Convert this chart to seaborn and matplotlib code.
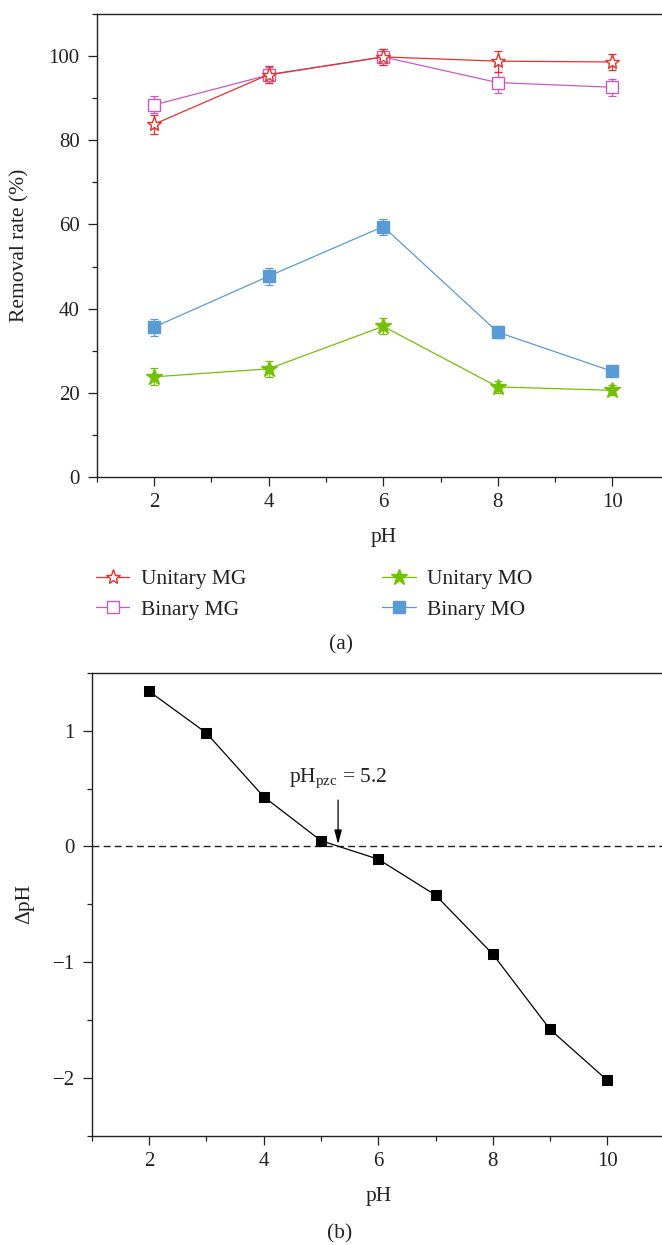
import numpy as np
import pandas as pd
import matplotlib
matplotlib.use("Agg")
import matplotlib.pyplot as plt
from matplotlib.ticker import MultipleLocator
import seaborn as sns

# ---- data: removal rate vs pH (panel a) ----
ph_a = [2, 4, 6, 8, 10]
unitary_mg = [83.8, 95.6, 99.8, 98.8, 98.6]
unitary_mg_err = [2.2, 2.0, 2.0, 2.5, 2.0]
binary_mg = [88.4, 95.5, 99.8, 93.7, 92.6]
binary_mg_err = [2.0, 2.0, 2.0, 2.5, 2.0]
unitary_mo = [23.8, 25.7, 35.8, 21.4, 20.6]
unitary_mo_err = [2.0, 1.9, 1.9, 1.5, 1.2]
binary_mo = [35.6, 47.7, 59.5, 34.4, 25.1]
binary_mo_err = [2.0, 2.0, 1.9, 1.4, 1.0]

# ---- data: point of zero charge (panel b) ----
ph_b = [2, 3, 4, 5, 6, 7, 8, 9, 10]
delta_ph = [1.34, 0.98, 0.43, 0.05, -0.11, -0.42, -0.93, -1.58, -2.02]
ph_pzc_label = r"pH$_{\mathrm{pzc}}$ = 5.2"
ph_pzc_x = 5.3

sns.set_theme(style="ticks")
plt.rcParams["font.family"] = ["Liberation Serif", "DejaVu Serif"]
plt.rcParams["mathtext.fontset"] = "custom"
plt.rcParams["mathtext.rm"] = "Liberation Serif"
plt.rcParams["mathtext.it"] = "Liberation Serif:italic"

W, H = 662, 1245
fig = plt.figure(figsize=(W / 100, H / 100), dpi=100)

def px_axes(left, top, right, bottom):
    return fig.add_axes([left / W, 1 - bottom / H, (right - left) / W, (bottom - top) / H])

ax1 = px_axes(96.7, 14, 669.7, 477)
ax2 = px_axes(91.7, 672.7, 664.7, 1136)

series = [
    ("Unitary MG", unitary_mg, unitary_mg_err, "#e8302a", "*", 11, "white"),
    ("Binary MG", binary_mg, binary_mg_err, "#cf58bf", "s", 8, "white"),
    ("Unitary MO", unitary_mo, unitary_mo_err, "#72c102", "*", 12, None),
    ("Binary MO", binary_mo, binary_mo_err, "#5b9bd5", "s", 8, None),
]
draw_order = [2, 3, 1, 0]
for i in draw_order:
    name, vals, err, col, mk, ms, face = series[i]
    ax1.errorbar(ph_a, vals, yerr=err, fmt="none", ecolor=col,
                 elinewidth=0.9, capsize=3.2, capthick=0.9, zorder=2)
    sns.lineplot(x=ph_a, y=vals, ax=ax1, color=col, marker=mk, markersize=ms,
                 markerfacecolor=face if face else col, markeredgecolor=col,
                 markeredgewidth=1.0, linewidth=0.9, label=name, zorder=3)

if ax1.get_legend() is not None:
    ax1.get_legend().remove()
handles, labels = ax1.get_legend_handles_labels()
order = [labels.index(s[0]) for s in series]
handles = [handles[k] for k in order]
labels = [labels[k] for k in order]

# ---- panel b ----
sns.lineplot(x=ph_b, y=delta_ph, ax=ax2, color="black", marker="s", markersize=6.5,
             markerfacecolor="black", markeredgecolor="black", linewidth=0.9, zorder=3)
ax2.axhline(0, color="#222222", linestyle=(0, (5, 3)), linewidth=1.0, zorder=1)
ax2.annotate("", xy=(ph_pzc_x, 0.02), xytext=(ph_pzc_x, 0.40),
             arrowprops=dict(arrowstyle="-|>,head_length=0.6,head_width=0.16",
                             mutation_scale=14, color="black", lw=0.9,
                             shrinkA=0, shrinkB=0))
ax2.text(ph_pzc_x, 0.59, ph_pzc_label, ha="center", va="center", fontsize=15.5,
         color="#222222")

# ---- axes styling ----
for ax in (ax1, ax2):
    ax.set_xlim(1, 11)
    ax.xaxis.set_major_locator(MultipleLocator(2))
    ax.xaxis.set_minor_locator(MultipleLocator(1))
    ax.tick_params(which="major", direction="out", length=6.7, width=0.9,
                   labelsize=15, pad=5.0, colors="#222222")
    ax.tick_params(which="minor", direction="out", length=3.4, width=0.9,
                   colors="#222222")
    ax.tick_params(axis="y", which="major", pad=5.5)
    for side in ("top", "left", "bottom"):
        ax.spines[side].set_visible(True)
        ax.spines[side].set_linewidth(1.0)
        ax.spines[side].set_color("#222222")
    ax.spines["right"].set_visible(False)
    ax.tick_params(top=False, right=False, which="both")

ax1.set_ylim(0, 110)
ax1.yaxis.set_major_locator(MultipleLocator(20))
ax1.yaxis.set_minor_locator(MultipleLocator(10))
ax2.set_ylim(-2.5, 1.5)
ax2.yaxis.set_major_locator(MultipleLocator(1))
ax2.yaxis.set_minor_locator(MultipleLocator(0.5))
ax2.set_yticks([-2, -1, 0, 1])
ax2.set_yticklabels(["\u22122", "\u22121", "0", "1"])

ax1.set_xlabel("pH", fontsize=15.5, color="#222222")
ax1.set_ylabel("Removal rate (%)", fontsize=15.5, color="#222222")
ax2.set_xlabel("pH", fontsize=15.5, color="#222222")
ax2.set_ylabel("\u0394pH", fontsize=15.5, color="#222222")
ax1.xaxis.set_label_coords(0.5, -60 / 463)
ax2.xaxis.set_label_coords(0.5, -61 / 463.3)
ax1.xaxis.label.set_va("center")
ax2.xaxis.label.set_va("center")
ax1.yaxis.set_label_coords((20 - 96.7) / 573, 0.5)
ax2.yaxis.set_label_coords((25 - 91.7) / 573, 0.5)
ax1.yaxis.label.set_va("center")
ax2.yaxis.label.set_va("center")

fig.legend(handles, labels, ncol=2, loc="upper left",
           bbox_to_anchor=(96 / W, 1 - 569 / H), frameon=False, fontsize=15.5,
           handlelength=1.55, handletextpad=0.55, columnspacing=6.3,
           labelspacing=0.5, borderpad=0, borderaxespad=0,
           labelcolor="#222222")

fig.text(341 / W, 1 - 645 / H, "(a)", ha="center", va="center", fontsize=15.5,
         color="#222222")
fig.text(340 / W, 1 - 1234 / H, "(b)", ha="center", va="center", fontsize=15.5,
         color="#222222")

fig.savefig("out.png", dpi=100)
